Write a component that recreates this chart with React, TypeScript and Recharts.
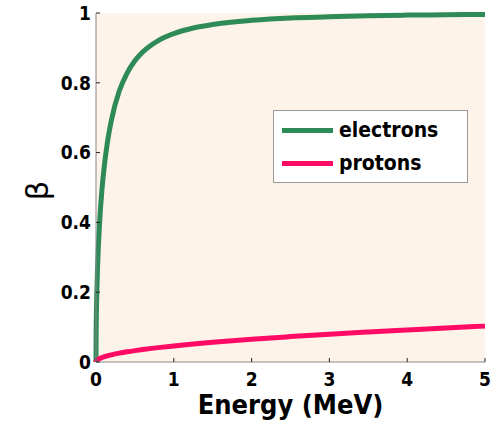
import React from 'react';
import { LineChart, Line, XAxis, YAxis, CartesianGrid, Legend, Label } from 'recharts';

// kinetic energy (MeV) sample points
const energies = [0, 0.001, 0.005, 0.01, 0.02, 0.03, 0.05, 0.075, 0.1, 0.15, 0.2, 0.3, 0.4, 0.5, 0.6, 0.8, 1, 1.25, 1.5, 2, 2.5, 3, 3.5, 4, 4.5, 5];
const electronBeta = [0, 0.0625, 0.139, 0.195, 0.272, 0.328, 0.413, 0.490, 0.548, 0.634, 0.695, 0.777, 0.828, 0.863, 0.888, 0.921, 0.941, 0.957, 0.967, 0.979, 0.986, 0.989, 0.992, 0.994, 0.995, 0.996];
const protonBeta = [0, 0.0015, 0.0033, 0.0046, 0.0065, 0.008, 0.0103, 0.0126, 0.0146, 0.0179, 0.0206, 0.0253, 0.0292, 0.0326, 0.0357, 0.0412, 0.0461, 0.0515, 0.0564, 0.0652, 0.0728, 0.0798, 0.0861, 0.092, 0.0976, 0.1028];

const xTicks = [0, 1, 2, 3, 4, 5];
const yTicks = [0, 0.2, 0.4, 0.6, 0.8, 1];

const series = [
  { key: 'electrons', color: '#2e8b57' },
  { key: 'protons', color: '#ff0a64' },
];

const data = energies.map((e, i) => ({ energy: e, electrons: electronBeta[i], protons: protonBeta[i] }));

const FONT = '"DejaVu Sans Condensed", "DejaVu Sans", sans-serif';
const tickFont = { fontFamily: FONT, fontWeight: 'bold', fontSize: 19, fill: '#000' };

const LegendBox = () => (
  <div style={{ width: 195, height: 73, boxSizing: 'border-box', border: '1px solid #999', background: '#fff', position: 'relative' }}>
    {series.map((s, i) => (
      <div key={s.key} style={{ position: 'absolute', left: 8, top: 6 + i * 33, height: 26, display: 'flex', alignItems: 'center' }}>
        <div style={{ width: 51, height: 5, background: s.color }} />
        <span style={{ marginLeft: 6, fontFamily: FONT, fontWeight: 'bold', fontSize: 21, color: '#000' }}>{s.key}</span>
      </div>
    ))}
  </div>
);

export default function App() {
  return (
    <div style={{ position: 'absolute', left: 0, top: 0, background: '#fff' }}>
      <LineChart width={494} height={427} data={data} margin={{ top: 13, right: 9, bottom: 10, left: 36 }}>
        <CartesianGrid horizontal={false} vertical={false} fill="#fdf3e9" />
        <XAxis
          dataKey="energy"
          type="number"
          domain={[0, 5]}
          ticks={xTicks}
          height={55}
          tickSize={-4}
          tickMargin={15}
          tick={tickFont}
          axisLine={{ stroke: '#888' }}
          tickLine={{ stroke: '#222' }}
        >
          <Label value="Energy (MeV)" position="insideBottom" offset={3} style={{ fontFamily: FONT, fontWeight: 'bold', fontSize: 27, fill: '#000' }} />
        </XAxis>
        <XAxis
          xAxisId="top"
          orientation="top"
          dataKey="energy"
          type="number"
          domain={[0, 5]}
          ticks={xTicks}
          height={0}
          tickSize={-4}
          tickFormatter={() => ''}
          axisLine={{ stroke: '#888' }}
          tickLine={{ stroke: '#222' }}
        />
        <YAxis
          type="number"
          domain={[0, 1]}
          ticks={yTicks}
          width={60}
          tickSize={-4}
          tickMargin={9}
          tick={tickFont}
          axisLine={{ stroke: '#888' }}
          tickLine={{ stroke: '#222' }}
        >
          <Label value="β" angle={-90} position="center" dx={-29} dy={3} style={{ fontFamily: 'DejaVu Sans', fontSize: 31, fill: '#000' }} />
        </YAxis>
        <YAxis
          yAxisId="right"
          orientation="right"
          type="number"
          domain={[0, 1]}
          ticks={yTicks}
          width={0}
          tickSize={-4}
          tickFormatter={() => ''}
          axisLine={{ stroke: '#888' }}
          tickLine={{ stroke: '#222' }}
        />
        <Legend
          layout="vertical"
          align="center"
          verticalAlign="middle"
          content={<LegendBox />}
          wrapperStyle={{ left: 273, top: 110, width: 195, height: 73 }}
        />
        {series.map(s => (
          <Line key={s.key} dataKey={s.key} type="monotone" stroke={s.color} strokeWidth={5} dot={false} isAnimationActive={false} />
        ))}
      </LineChart>
    </div>
  );
}
